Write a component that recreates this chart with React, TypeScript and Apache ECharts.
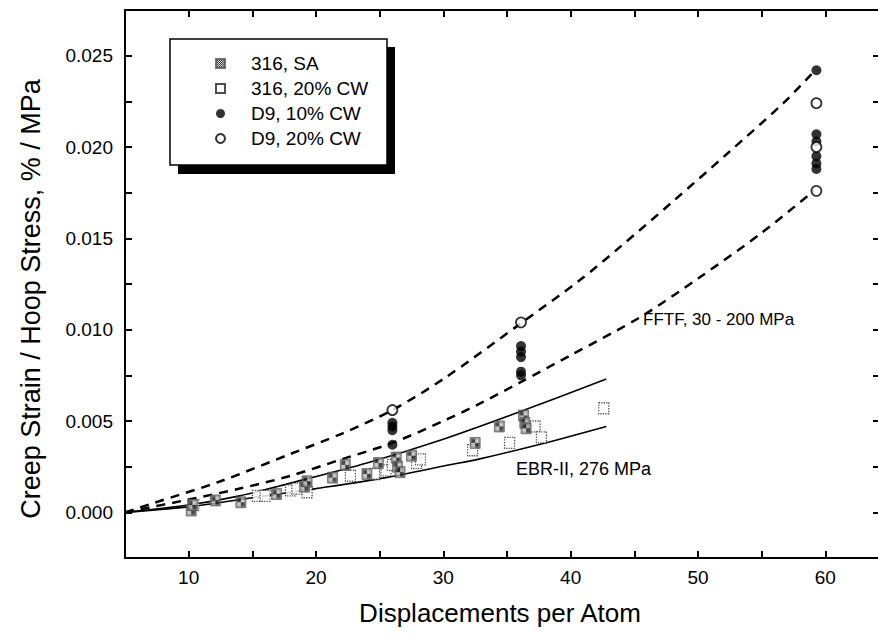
import React, { useEffect, useRef } from "react";
import * as echarts from "echarts";

// ---- data ----
const sa316X = [10.2, 10.3, 12.1, 14.1, 16.9, 19.1, 19.3, 21.3, 22.3, 24.0, 24.9, 26.3, 26.4, 26.6, 27.5, 32.5, 34.4, 36.3, 36.4, 36.5];
const sa316Y = [0.0001, 0.0004, 0.00065, 0.00055, 0.001, 0.0014, 0.0017, 0.0019, 0.0026, 0.0021, 0.0027, 0.003, 0.0025, 0.0022, 0.0031, 0.0038, 0.0047, 0.0053, 0.0049, 0.0046];

const cw316X = [10.4, 15.4, 16.0, 18.0, 18.5, 19.3, 22.7, 24.6, 25.5, 26.0, 27.9, 28.2, 32.3, 35.2, 37.2, 37.7, 42.6];
const cw316Y = [0.0004, 0.0009, 0.0009, 0.0012, 0.0013, 0.0011, 0.002, 0.0021, 0.0023, 0.0026, 0.0027, 0.0029, 0.0034, 0.0038, 0.0047, 0.0041, 0.0057];

const d9cw10X = [26.0, 26.0, 26.0, 26.0, 36.1, 36.1, 36.1, 36.1, 36.1, 59.3, 59.3, 59.3, 59.3, 59.3, 59.3];
const d9cw10Y = [0.0049, 0.0047, 0.0045, 0.0037, 0.0091, 0.0088, 0.0085, 0.0077, 0.0075, 0.0242, 0.0207, 0.0203, 0.0195, 0.0191, 0.0188];

const d9cw20X = [26.0, 36.1, 59.3, 59.3, 59.3];
const d9cw20Y = [0.0056, 0.0104, 0.0224, 0.02, 0.0176];

const fftfHighX = [5, 7.2, 12.5, 18, 22, 26, 30, 36.2, 40.7, 44, 48, 52.4, 56.7, 59.2];
const fftfHighY = [0, 0.0005, 0.0017, 0.0032, 0.0043, 0.0056, 0.0073, 0.0104, 0.0127, 0.0146, 0.017, 0.0197, 0.0224, 0.0242];

const fftfLowX = [5, 10, 14, 18, 22, 26, 30, 33, 36, 40, 45.5, 50, 55, 59.1];
const fftfLowY = [0, 0.0007, 0.0013, 0.002, 0.0029, 0.0038, 0.005, 0.006, 0.0071, 0.0086, 0.0107, 0.0128, 0.0153, 0.0176];

const ebrHighX = [5, 10, 14, 18, 24, 30, 36, 42.8];
const ebrHighY = [0, 0.0004, 0.0009, 0.0016, 0.0027, 0.004, 0.0055, 0.0073];

const ebrLowX = [5, 10, 15, 20, 25.5, 30.5, 32.7, 38, 42.8];
const ebrLowY = [0, 0.0003, 0.0008, 0.0013, 0.0019, 0.0026, 0.0029, 0.0038, 0.0047];

const legendNames = ["316, SA", "316, 20% CW", "D9, 10% CW", "D9, 20% CW"];
const xTitle = "Displacements per Atom";
const yTitle = "Creep Strain / Hoop Stress, % / MPa";
const fftfLabel = "FFTF, 30 - 200 MPa";
const ebrLabel = "EBR-II, 276 MPa";

const zip = (xs: number[], ys: number[]) => xs.map((x, i) => [x, ys[i]]);

const FONT = "'Liberation Sans', Arial, sans-serif";

function makeHatch() {
  const c = document.createElement("canvas");
  c.width = 2;
  c.height = 2;
  const ctx = c.getContext("2d");
  if (ctx) {
    ctx.fillStyle = "#bdbdbd";
    ctx.fillRect(0, 0, 2, 2);
    ctx.fillStyle = "#1a1a1a";
    ctx.fillRect(0, 0, 1, 1);
    ctx.fillRect(1, 1, 1, 1);
  }
  return c;
}

export default function App() {
  const ref = useRef<HTMLDivElement>(null);
  useEffect(() => {
    if (!ref.current) return;
    const chart = echarts.init(ref.current, undefined, { renderer: "svg" });
    const hatch = { image: makeHatch(), repeat: "repeat" };
    const axisCommon = {
      axisLine: { show: true, onZero: false, lineStyle: { color: "#000", width: 2 } },
      axisTick: { show: true, inside: true, length: 7, lineStyle: { color: "#000", width: 2 } },
      splitLine: { show: false },
    };
    const dashLine = (name: string, xs: number[], ys: number[]) => ({
      type: "line",
      name,
      data: zip(xs, ys),
      smooth: 0.3,
      symbol: "none",
      lineStyle: { color: "#000", width: 2.5, type: [9, 7] },
      z: 3,
      silent: true,
    });
    const solidLine = (name: string, xs: number[], ys: number[]) => ({
      type: "line",
      name,
      data: zip(xs, ys),
      smooth: 0.3,
      symbol: "none",
      lineStyle: { color: "#000", width: 1.6 },
      z: 3,
      silent: true,
    });
    chart.setOption({
      animation: false,
      backgroundColor: "#fff",
      textStyle: { fontFamily: FONT, color: "#000" },
      grid: { left: 125, right: 11, top: 10, bottom: 85 },
      xAxis: [
        {
          type: "value",
          min: 5,
          max: 65,
          interval: 5,
          ...axisCommon,
          axisLabel: {
            fontSize: 19,
            color: "#000",
            fontFamily: FONT,
            margin: 10,
            formatter: (v: number) => (Math.round(v) % 10 === 0 ? String(Math.round(v)) : ""),
          },
        },
        {
          type: "value",
          position: "top",
          min: 5,
          max: 65,
          interval: 5,
          ...axisCommon,
          axisLabel: { show: false },
        },
      ],
      yAxis: [
        {
          type: "value",
          min: -0.0025,
          max: 0.0275,
          interval: 0.0025,
          ...axisCommon,
          axisLabel: {
            fontSize: 19,
            color: "#000",
            fontFamily: FONT,
            margin: 12,
            formatter: (v: number) => {
              const k = Math.round(v / 0.005);
              if (k < 0 || Math.abs(k * 0.005 - v) > 1e-9) return "";
              return (k * 0.005).toFixed(3);
            },
          },
        },
        {
          type: "value",
          position: "right",
          min: -0.0025,
          max: 0.0275,
          interval: 0.0025,
          ...axisCommon,
          axisTick: { show: true, inside: true, length: 16, lineStyle: { color: "#000", width: 2 } },
          axisLabel: { show: false },
        },
      ],
      legend: {
        orient: "vertical",
        left: 210,
        top: 49,
        itemWidth: 9,
        itemHeight: 9,
        itemGap: 6,
        data: legendNames,
        textStyle: { fontSize: 19, lineHeight: 19, color: "#000", fontFamily: FONT, padding: [0, 0, 0, 21] },
        selectedMode: false,
        z: 10,
      },
      graphic: [
        { type: "rect", shape: { x: 178, y: 47, width: 217, height: 127 }, style: { fill: "#000" }, z: 1 },
        { type: "rect", shape: { x: 170, y: 39, width: 217, height: 126 }, style: { fill: "#fff", stroke: "#000", lineWidth: 1.5 }, z: 2 },
        { type: "text", left: 643, top: 311, style: { text: fftfLabel, fontSize: 17, fill: "#000", fontFamily: FONT }, z: 5 },
        { type: "text", left: 516, top: 460, style: { text: ebrLabel, fontSize: 18, fill: "#000", fontFamily: FONT }, z: 5 },
        {
          type: "text",
          x: 500,
          y: 613,
          style: { text: xTitle, fontSize: 26, fill: "#000", fontFamily: FONT, align: "center", verticalAlign: "middle" },
          z: 5,
        },
        {
          type: "text",
          x: 31,
          y: 299,
          rotation: Math.PI / 2,
          style: { text: yTitle, fontSize: 27, fill: "#000", fontFamily: FONT, align: "center", verticalAlign: "middle" },
          z: 5,
        },
      ],
      series: [
        dashLine("fftfHigh", fftfHighX, fftfHighY),
        dashLine("fftfLow", fftfLowX, fftfLowY),
        solidLine("ebrHigh", ebrHighX, ebrHighY),
        solidLine("ebrLow", ebrLowX, ebrLowY),
        {
          type: "scatter",
          name: legendNames[1],
          data: zip(cw316X, cw316Y),
          symbol: "rect",
          symbolSize: [10, 11],
          itemStyle: { color: "#fff", borderColor: "#222", borderWidth: 1.3, borderType: "dotted" },
          z: 4,
        },
        {
          type: "scatter",
          name: legendNames[0],
          data: zip(sa316X, sa316Y),
          symbol: "rect",
          symbolSize: [10, 11],
          itemStyle: { color: hatch, borderColor: "#555", borderWidth: 0.8 },
          z: 5,
        },
        {
          type: "scatter",
          name: legendNames[2],
          data: zip(d9cw10X, d9cw10Y),
          symbol: "circle",
          symbolSize: 10,
          itemStyle: { color: "#000" },
          z: 5,
        },
        {
          type: "scatter",
          name: legendNames[3],
          data: zip(d9cw20X, d9cw20Y),
          symbol: "circle",
          symbolSize: 10,
          itemStyle: { color: "#fff", borderColor: "#000", borderWidth: 1.8 },
          z: 6,
        },
      ],
    });
    return () => chart.dispose();
  }, []);
  return (
    <div style={{ position: "absolute", left: 0, top: 0, width: 878, height: 643, overflow: "hidden" }}>
      <div ref={ref} style={{ width: 900, height: 643 }} />
    </div>
  );
}
